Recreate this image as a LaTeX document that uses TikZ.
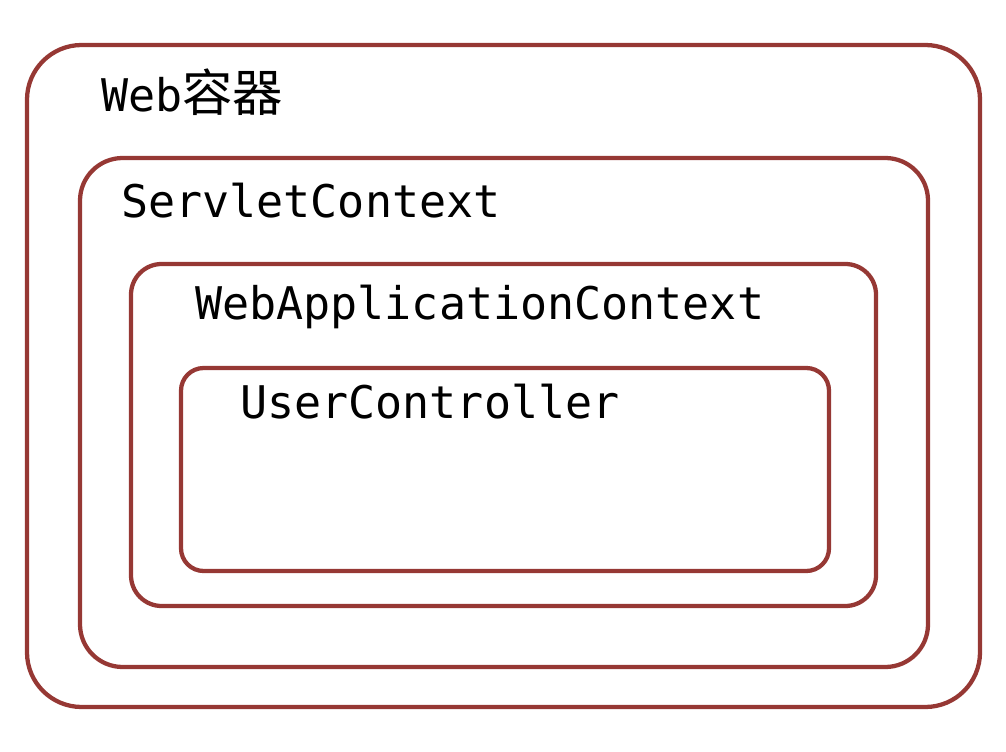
\documentclass[tikz,border=0pt]{standalone}
\usepackage{fontspec}
\setmonofont{DejaVu Sans Mono}
\newfontfamily\cjkfont[Scale=1.12]{Noto Sans CJK SC}
\usepackage{tikz}

\definecolor{framered}{RGB}{150,56,52}

\begin{document}
\begin{tikzpicture}[x=0.75pt,y=0.75pt,yscale=-1,xscale=1,
  frame/.style={draw=framered, line width=3.2pt},
  label/.style={anchor=base west, inner sep=0pt, font=\ttfamily\fontsize{33.75}{40}\selectfont}]
\useasboundingbox (0,0) rectangle (1006,752);

%Rounded Rect [Web container]
\draw [frame, rounded corners=41pt] (27,45) rectangle (980,707) ;
%Rounded Rect [ServletContext]
\draw [frame, rounded corners=32pt] (80,158) rectangle (928,667) ;
%Rounded Rect [WebApplicationContext]
\draw [frame, rounded corners=23pt] (131,264) rectangle (876,606) ;
%Rounded Rect [UserController]
\draw [frame, rounded corners=17pt] (181,368) rectangle (829,571) ;

% Text Node
\node [label] (webc) at (101,112) {Web{\cjkfont 容器}};
% Text Node
\node [label] (servletctx) at (121,218) {ServletContext};
% Text Node
\node [label] (webappctx) at (195,319) {WebApplicationContext};
% Text Node
\node [label] (userctrl) at (240,418) {UserController};

\end{tikzpicture}
\end{document}
